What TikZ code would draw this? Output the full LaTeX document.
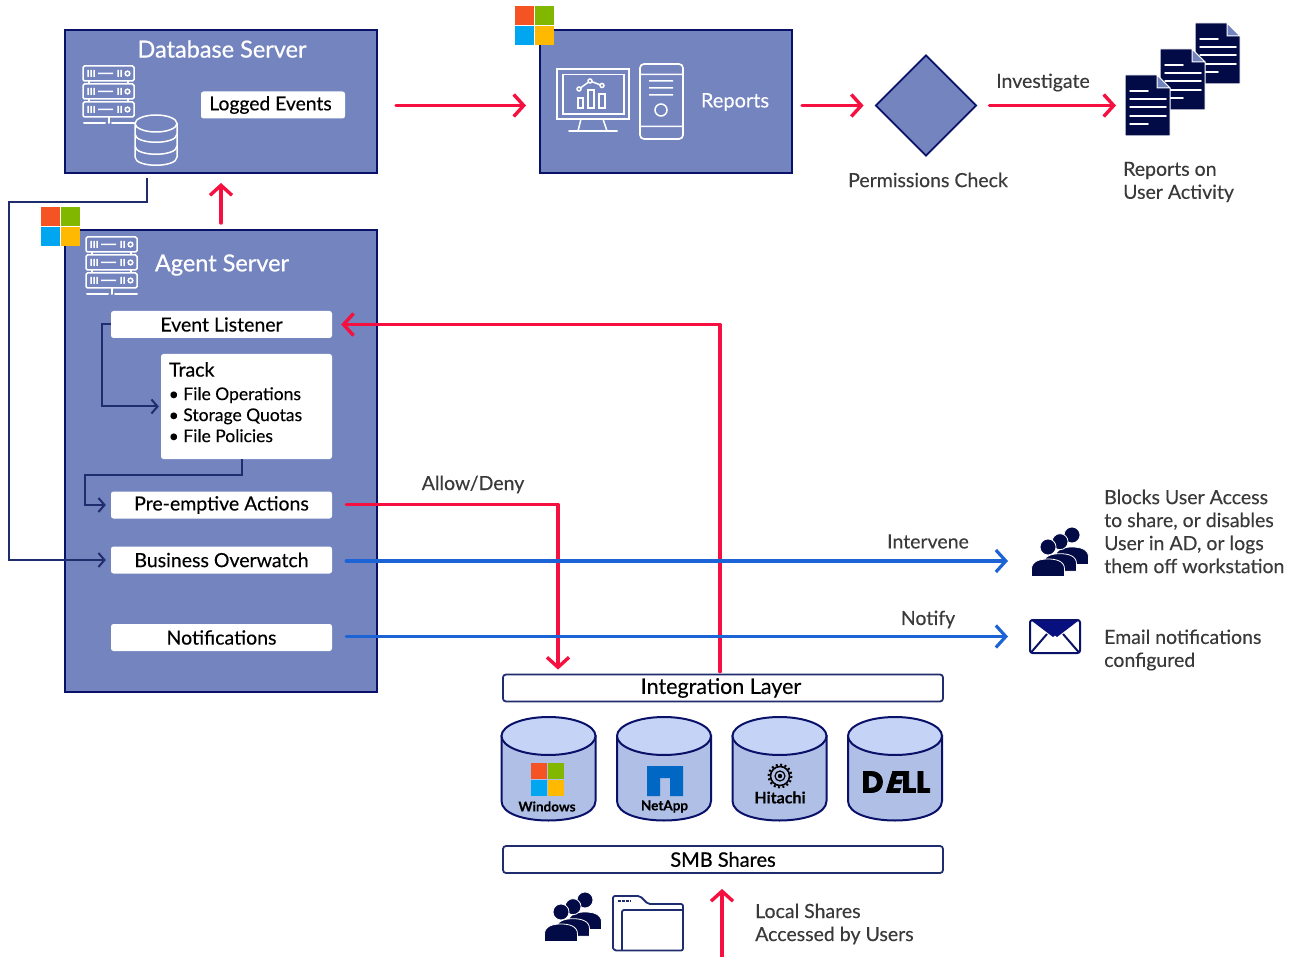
\documentclass[tikz,border=0pt]{standalone}
\usepackage{fontspec}
\setmainfont[FakeBold=0.25]{Lato}
\newfontfamily\strongfont[FakeBold=0.7]{Lato}
\newfontfamily\dellfont[FakeBold=2.2]{Poppins}
\newfontfamily\dellslant[FakeBold=2.2,FakeSlant=0.3]{Poppins}
\usetikzlibrary{arrows.meta}
\usetikzlibrary{shapes.geometric}

\definecolor{panelblue}{HTML}{7384BF}
\definecolor{panelnavy}{HTML}{0A1168}
\definecolor{wirenavy}{HTML}{1F2C6E}
\definecolor{iconnavy}{HTML}{020B45}
\definecolor{alertred}{HTML}{F5103F}
\definecolor{flowblue}{HTML}{1C64D6}
\definecolor{caption}{HTML}{3A3A3A}
\definecolor{diskside}{HTML}{B0BFE6}
\definecolor{disktop}{HTML}{C5D3F6}

\tikzset{
    panel/.style={draw=panelnavy,line width=2pt,fill=panelblue,inner sep=0pt},
    whitebar/.style={fill=white,rounded corners=2.5pt,inner sep=0pt,minimum width=221,minimum height=27,
        font=\fontsize{19.5}{23}\selectfont,text=black},
    layerbar/.style={draw=wirenavy,line width=1.8pt,fill=white,rounded corners=3pt,inner sep=0pt,
        minimum width=440,minimum height=27,font=\fontsize{20}{24}\selectfont,text=black},
    heading/.style={text=white,inner sep=0pt,font=\strongfont\fontsize{23.5}{28}\selectfont},
    remark/.style={text=caption,inner sep=0pt,align=left,font=\fontsize{19.5}{23}\selectfont},
    brand/.style={text=black,inner sep=0pt,font=\bfseries\fontsize{14}{16}\selectfont},
    redarrow/.style={draw=alertred,line width=3.4pt,line cap=round,line join=round,-{Straight Barb[length=10pt,width=22pt,line width=3.4pt]}},
    bluearrow/.style={draw=flowblue,line width=3.2pt,line cap=round,-{Straight Barb[length=10pt,width=22pt,line width=3.2pt]}},
    navyarrow/.style={draw=wirenavy,line width=2pt,-{Straight Barb[length=6pt,width=14pt,line width=2pt]}},
    glyph/.style={draw=white,line width=1.5pt,fill=none},
    msflag/.pic={
        \fill[fill={rgb,255:red,246;green,83;blue,36}] (0,0) rectangle (19,19);
        \fill[fill={rgb,255:red,130;green,183;blue,0}] (20,0) rectangle (39,19);
        \fill[fill={rgb,255:red,0;green,166;blue,240}] (0,20) rectangle (19,39);
        \fill[fill={rgb,255:red,255;green,185;blue,0}] (20,20) rectangle (39,39);
    },
    rackunit/.pic={
        \draw[glyph,rounded corners=1.5pt] (0,0) rectangle (51,15);
        \draw[glyph] (5,4) -- (5,11) (8,4) -- (8,11) (11,4) -- (11,11) (15,7.5) -- (30,7.5)
            (35,4) -- (35,11) (38,4) -- (38,11) (44.5,7.5) circle (2.3);
    },
    serverrack/.pic={
        \pic at (0,0) {rackunit};
        \pic at (0,18) {rackunit};
        \pic at (0,36) {rackunit};
        \draw[glyph] (6,15) -- (6,18) (45,15) -- (45,18) (6,33) -- (6,36) (45,33) -- (45,36);
        \draw[glyph,line width=2pt,line cap=round] (25.5,51) -- (25.5,57) (1,57) -- (22,57) (29,57) -- (51,57);
    },
    person/.pic={
        \draw[draw=white,line width=.8pt,fill=iconnavy] (-16.5,29.5) -- (-16.5,22) .. controls (-16.5,14) and (-8,12) .. (0,12)
            .. controls (8,12) and (16.5,14) .. (16.5,22) -- (16.5,29.5) -- cycle;
        \draw[draw=white,line width=.8pt,fill=iconnavy] (0,0) circle (8);
    },
    crowd/.pic={
        \pic at (40,8) {person};
        \pic at (28,14.7) {person};
        \pic at (16,20) {person};
    },
    paper/.pic={
        \draw[draw=white,line width=1pt,fill=iconnavy] (0,0) -- (32,0) -- (45,13) -- (45,61) -- (0,61) -- cycle;
        \draw[draw=white,line width=1pt,fill=panelblue] (32,0) -- (32,13) -- (45,13) -- cycle;
        \draw[draw=white,line width=1.5pt,line cap=round] (5,16) -- (23,16) (5,24) -- (41,24)
            (5,32) -- (41,32) (5,41) -- (41,41) (5,49) -- (23,49);
    },
    disk/.pic={
        \draw[draw=panelnavy,line width=2pt,fill=diskside] (-47,0) -- (-47,65)
            .. controls (-47,91) and (47,91) .. (47,65) -- (47,0) -- cycle;
        \draw[draw=panelnavy,line width=2pt,fill=disktop] (0,0) circle [x radius=47,y radius=19];
    },
    x=1pt,y=-1pt
}

\begin{document}
\begin{tikzpicture}

    \useasboundingbox (0,0) rectangle (1296,957);

    \path   (221,101.5) node (dbserver) [panel,minimum width=312,minimum height=143] {}
            (666,101.5) node (reports) [panel,minimum width=252,minimum height=143] {}
            (221,461) node (agent) [panel,minimum width=312,minimum height=462] {}
            (926,105.5) node (permcheck) [diamond,aspect=1,draw=panelnavy,line width=1.8pt,fill=panelblue,inner sep=0pt,minimum size=101] {};

    \path   (222,49) node (dbtitle) [heading] {Database Server}
            (222,265) node (agenttitle) [heading] {Agent Server}
            (735,102) node (reportstitle) [heading,font=\fontsize{20}{24}\selectfont] {Reports}
            (273,105) node (logged) [whitebar,minimum width=144,font=\fontsize{19.3}{23}\selectfont] {Logged Events\kern5pt}
            (221.5,324.5) node (listener) [whitebar] {Event Listener}
            (246.5,406.5) node (track) [whitebar,minimum width=171,minimum height=105] {}
            (221.5,505) node (preempt) [whitebar] {Pre-emptive Actions}
            (221.5,560) node (overwatch) [whitebar] {Business Overwatch}
            (221.5,637.5) node (notices) [whitebar] {Notifications}
            (169,369.5) node (tracktitle) [anchor=west,inner sep=0pt,text=black,font=\strongfont\fontsize{19.5}{24}\selectfont] {Track}
            (168.5,387) node (tracklist) [anchor=north west,inner sep=0pt,text=black,align=left,font=\fontsize{17.5}{21}\selectfont]
                {\textbullet\ File Operations\\\textbullet\ Storage Quotas\\\textbullet\ File Policies};

    \path   (723,688) node (integration) [layerbar,font=\fontsize{21.5}{24}\selectfont] {Integration Layer\kern4pt}
            (723,859.5) node (smb) [layerbar,font=\strongfont\fontsize{20}{24}\selectfont] {SMB Shares}
            (1055,636.5) node (mailbox) [draw=panelnavy,line width=2pt,fill=white,rounded corners=2.5pt,inner sep=0pt,minimum width=50,minimum height=33] {};

    \path   (928,180) node (permlabel) [remark] {Permissions Check}
            (1043,82.5) node (investigate) [remark] {Investigate}
            (1123,182) node (activity) [remark,anchor=west] {Reports on\\User Activity}
            (473,484.5) node (allowdeny) [remark] {Allow/Deny}
            (928,541.5) node (intervene) [remark] {Intervene}
            (928,619.5) node (notify) [remark] {Notify}
            (1104,531.5) node (blocks) [remark,anchor=west] {Blocks User Access\\to share, or disables\\User in AD, or logs\\them off workstation}
            (1104,650) node (email) [remark,anchor=west] {Email notifications\\configured}
            (755,924) node (localshares) [remark,anchor=west] {Local Shares\\Accessed by Users};

    \coordinate (docfront) at (1125,105.5);
    \coordinate (crowdfront) at (1032,561);
    \coordinate (turnup) at (720,324.5);
    \coordinate (dropdown) at (558,504.5);
    \coordinate (dbdrop) at (147,202);
    \coordinate (leftrail) at (9,560);
    \coordinate (listenerelbow) at (102,370);
    \coordinate (trackdrop) at (242,475);
    \coordinate (preemptelbow) at (85,505);
    \coordinate (localfoot) at (722,957);

    % icons
    \pic at (515,6) {msflag};
    \pic at (41,207) {msflag};
    \pic at (83,66) {serverrack};
    \pic at (86,237) {serverrack};

    \draw[glyph,fill=panelblue] (135,123) -- (135,157) .. controls (135,168) and (177,168) .. (177,157) -- (177,123);
    \draw[glyph] (156,123.5) circle [x radius=21,y radius=8.5];
    \draw[glyph] (135,134) .. controls (135,145) and (177,145) .. (177,134)
                 (135,146) .. controls (135,157) and (177,157) .. (177,146);

    \draw[glyph,line width=1.7pt] (557,69) rectangle (629,119) (563,74.5) rectangle (624,114);
    \draw[glyph] (581,119) -- (578,131) (603,119) -- (607,131);
    \draw[glyph,line width=2pt,line cap=round] (569,131.5) -- (617,131.5);
    \draw[glyph] (578,98) rectangle (583,108) (588,90) rectangle (594,108) (599,94) rectangle (605,108);
    \draw[glyph] (579,89) -- (590,81) -- (602,85.5);
    \draw[glyph,fill=panelblue] (579,89) circle (2) (590,81) circle (2) (602,85.5) circle (2);
    \draw[glyph,line width=1.7pt,rounded corners=4pt] (640,64) rectangle (683,139);
    \draw[glyph] (640,74.5) -- (683,74.5) (640,126.5) -- (683,126.5)
                 (649,81) -- (673,81) (649,88) -- (673,88) (649,95) -- (673,95) (661,110) circle (6);

    \pic at (1195,23) {paper};
    \pic at (1160,49) {paper};
    \pic at (1125,75) {paper};

    \pic at (1032,527) {crowd};
    \pic at (545,892) {crowd};

    \fill[panelnavy!85!blue] (1032,621) -- (1078,621) -- (1057,637) -- (1055,635.5) -- (1053,637) -- cycle;
    \draw[draw=panelnavy,line width=2pt] (1031,652.5) -- (1047,634) (1079,652.5) -- (1063,634);

    \draw[draw=wirenavy,line width=1.8pt,fill=white,rounded corners=2pt] (623,950.5) -- (618,950.5) .. controls (614,950.5) and (613,948) .. (613,946)
        -- (613,896) -- (640,896) -- (648,904) -- (683,904) -- (683,950.5) -- cycle;
    \draw[draw=wirenavy,line width=1.8pt,rounded corners=2pt] (622,950.5) -- (622,910) -- (683,910);
    \draw[draw=wirenavy,line width=2.5pt,dash pattern=on 2.5pt off 1.5pt] (618,901) -- (631,901);

    % disks and their marks
    \pic at (548.5,736) {disk};
    \pic at (664,736) {disk};
    \pic at (779.5,736) {disk};
    \pic at (895,736) {disk};

    \pic[scale=.85] at (531,763) {msflag};
    \fill[fill={rgb,255:red,0;green,103;blue,197}] (647,796) -- (647,766) -- (683,766) -- (683,796) -- (670,796) -- (670,778) -- (660,778) -- (660,796) -- cycle;
    \draw[draw=black,line width=1.6pt] (780,776) circle (9.5);
    \draw[draw=black,line width=1.2pt] (780,776) circle (5);
    \fill[black] (780,776) circle (2.2);
    \draw[draw=black,line width=2pt,dash pattern=on 2pt off 2.5pt] (780,776) circle (11.5);

    \path   (547,806.5) node (windowslabel) [brand,font=\bfseries\fontsize{13.5}{16}\selectfont] {Windows}
            (664.5,806.5) node (netapplabel) [brand,font=\bfseries\fontsize{13.5}{16}\selectfont] {NetApp}
            (780,797.5) node (hitachilabel) [brand,font=\bfseries\fontsize{16}{18}\selectfont] {Hitachi}
            (896,782) node (delllabel) [brand,font=\dellfont\bfseries\fontsize{30}{30}\selectfont] {D\kern1pt{\dellslant\bfseries E}\kern1pt LL};

    % connectors
    \draw[redarrow,shorten <=18pt,shorten >=13pt] (dbserver.east |- permcheck.west) -- (reports.west |- permcheck.west);
    \draw[redarrow,shorten <=9pt,shorten >=11pt] (reports.east |- permcheck.west) -- (permcheck.west);
    \draw[redarrow,shorten <=12pt,shorten >=9pt] (permcheck.east) -- (docfront);
    \draw[redarrow,shorten <=6pt,shorten >=9pt] (agent.north) -- (dbserver.south);
    \draw[redarrow,shorten <=2pt,shorten >=9pt] (integration.north -| turnup) -- (turnup) -- (listener.east);
    \draw[redarrow,shorten <=14pt,shorten >=4pt] (preempt.east |- dropdown) -- (dropdown) -- (integration.north -| dropdown);
    \draw[redarrow,shorten >=15pt] (localfoot) -- (smb.south -| localfoot);

    \draw[bluearrow,shorten <=14pt,shorten >=24pt] (overwatch.east |- crowdfront) -- (crowdfront);
    \draw[bluearrow,shorten <=14pt,shorten >=21pt] (notices.east |- mailbox.west) -- (mailbox.west);

    \draw[navyarrow,shorten <=4pt,shorten >=5pt] (dbserver.south -| dbdrop) -- (dbdrop) -| (leftrail) -- (overwatch.west);
    \draw[navyarrow,shorten >=2pt] (listener.west) -| (listenerelbow) |- (track.west);
    \draw[navyarrow,shorten >=5pt] (track.south -| trackdrop) -- (trackdrop) -| (preemptelbow) -- (preempt.west);

\end{tikzpicture}
\end{document}
